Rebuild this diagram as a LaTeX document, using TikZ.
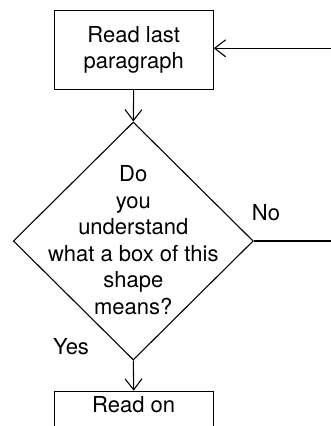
\documentclass[tikz,border=0pt]{standalone}
\usepackage{fontspec}
\setmainfont{TeX Gyre Heros}
\usetikzlibrary{shapes.geometric,arrows.meta}
\begin{document}
\begin{tikzpicture}[x=1pt,y=-1pt,
  line width=1.1pt,
  every node/.style={font=\fontsize{22}{26.5}\selectfont},
  stepbox/.style={draw,rectangle,inner sep=0pt,minimum width=159pt,align=center},
  decision/.style={draw,diamond,inner sep=0pt,minimum width=240pt,minimum height=238pt},
  qtext/.style={align=center,inner sep=0pt},
  arr/.style={-{Straight Barb[length=11pt,width=17pt,line width=1.1pt]}},
  lbl/.style={inner sep=0pt}]
  \useasboundingbox (0,0) rectangle (331,426);
  \clip (0,0) rectangle (331,426);

  % boxes
  \node[stepbox,minimum height=78.6pt] (top) at (133.7,50) {Read last\\paragraph};
  \node[decision] (q) at (133.3,241) {};
  \node[qtext] (qt) at (133.3,240) {Do\\you\\understand\\what a box of this\\shape\\means?};
  \node[stepbox,minimum height=60pt,anchor=north] (bot) at (133.7,390.7) {};
  \node[lbl] (bottxt) at (133.7,405) {Read on};

  % return loop (runs off to the right)
  \coordinate (loopB) at (345,241);
  \coordinate (loopT) at (345,48.3);

  % connectors
  \draw[arr] (top.south) -- (q.north);
  \draw[arr] (q.south) -- (bot.north);
  \draw[arr] (q.east) -- (loopB) -- (loopT) -- (loopT -| top.east);

  % branch labels
  \node[lbl] (yes) at (71,347) {Yes};
  \node[lbl] (no) at (266,213) {No};
\end{tikzpicture}
\end{document}
